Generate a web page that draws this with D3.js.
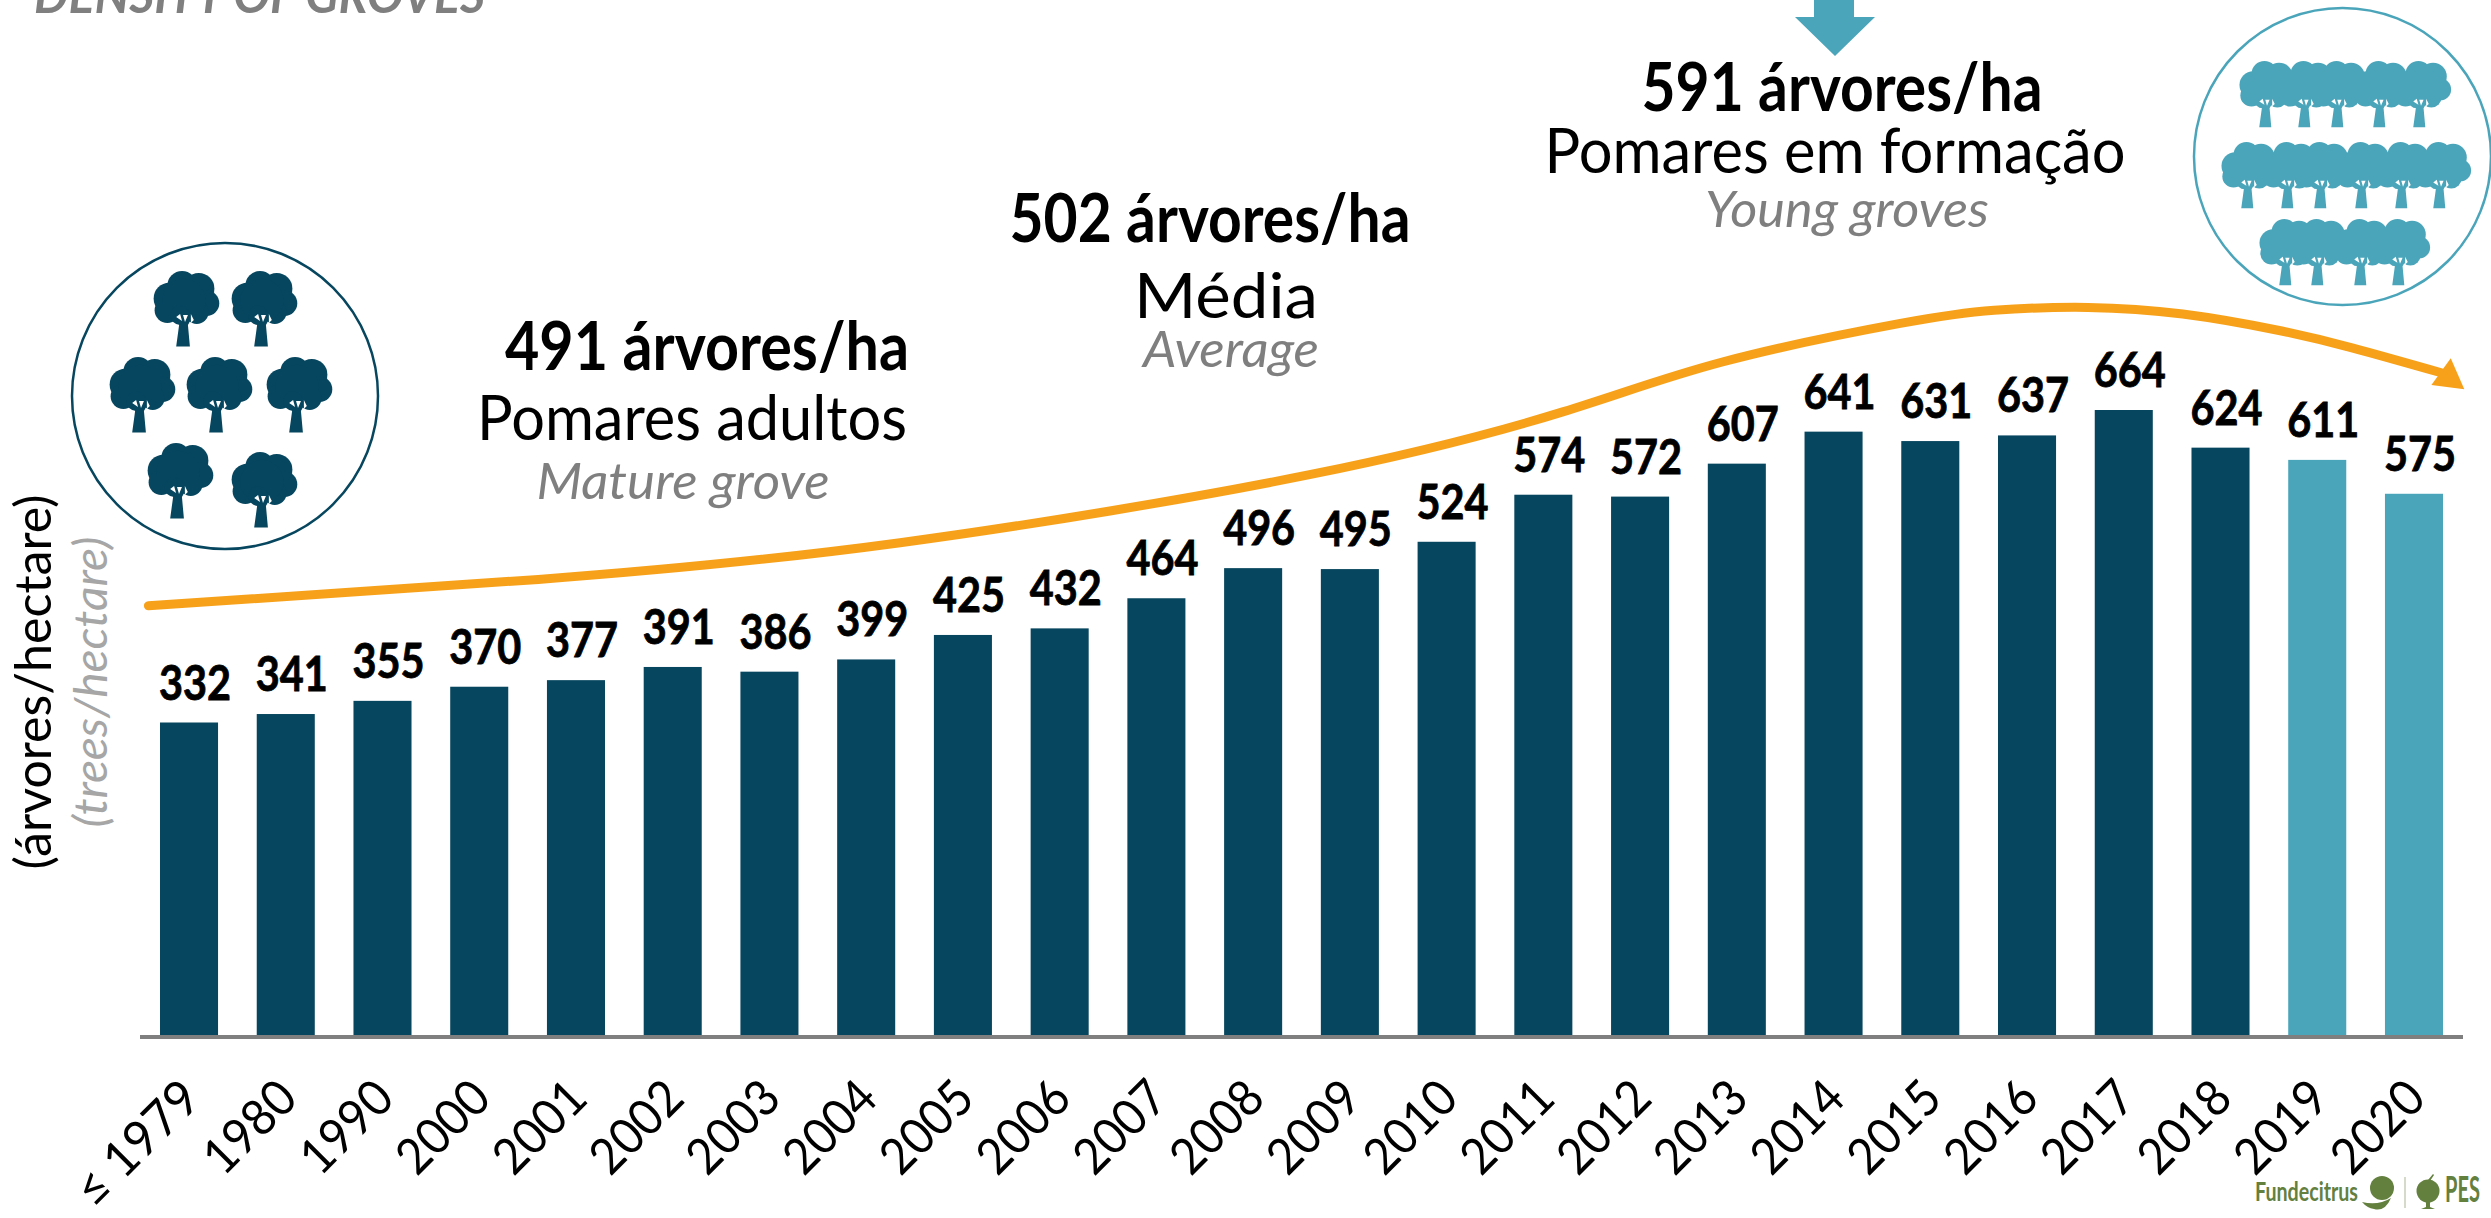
<!DOCTYPE html>
<html><head><meta charset="utf-8">
<style>html,body{margin:0;padding:0;background:#fff;overflow:hidden}svg{display:block}text{font-family:Lato,"Open Sans",sans-serif}</style>
<script src="https://cdnjs.cloudflare.com/ajax/libs/d3/7.8.5/d3.min.js"></script>
</head><body><svg id="c" width="2491" height="1218"></svg>
<script>
const categories = ["≤ 1979","1980","1990","2000","2001","2002","2003","2004","2005","2006","2007","2008","2009","2010","2011","2012","2013","2014","2015","2016","2017","2018","2019","2020"];
const density = [332,341,355,370,377,391,386,399,425,432,464,496,495,524,574,572,607,641,631,637,664,624,611,575];
const youngFrom = ["2019","2020"];
// trend arrow: [category position, trees/ha]
const trendCurve = [[-0.42,456],[3.61,484],[7.35,523],[11.57,595],[14.2,662],[15.85,715],[17.69,756],[18.66,770],[19.63,773],[20.61,766],[21.58,749],[22.36,730],[23.3,703]];
const trendHead = [[23.38,719],[23.52,686],[23.18,690.5]];
const annotations = [
 {t:"DENSITY OF GROVES",x:259.5,y:13,s:50,w:451,b:1,i:1,c:"#7f7f7f"},
 {t:"491 árvores/ha",x:707,y:370,s:66,w:404,b:1},
 {t:"Pomares adultos",x:692,y:440,s:62,w:430},
 {t:"Mature grove",x:683,y:499,s:50,w:293,i:1,c:"#7f7f7f"},
 {t:"502 árvores/ha",x:1210,y:242,s:66,w:401,b:1},
 {t:"Média",x:1226,y:318,s:62,w:184},
 {t:"Average",x:1231,y:367,s:50,w:176,i:1,c:"#7f7f7f"},
 {t:"591 árvores/ha",x:1842,y:111,s:66,w:401,b:1},
 {t:"Pomares em formação",x:1835,y:173,s:62,w:581},
 {t:"Young groves",x:1847,y:227,s:50,w:284,i:1,c:"#7f7f7f"}
];
const axisTitles = [
 {t:"(árvores/hectare)",x:51,y:682,s:50,w:375,c:"#000"},
 {t:"(trees/hectare)",x:107,y:682,s:46,w:291,i:1,c:"#a6a6a6"}
];
const darkTrees = [[185,271],[263,271],[141,357],[218,357],[298,357],[179,443],[263,452]];
const tealTrees = [[2267,61],[2306,61],[2339,61],[2381,61],[2421,61],[2249,142],[2289,142],[2322,142],[2363,142],[2403,142],[2441,142],[2287,219],[2319,219],[2362,219],[2400,219]];
const NAVY="#07465f", TEAL="#4ba5ba", ORANGE="#f7a11a", GREEN="#64803f";

const svg=d3.select("#c");
const x=d3.scaleBand().domain(categories).range([160,2443]).paddingInner(0.4).paddingOuter(0);
const y=d3.scaleLinear().domain([0,664]).range([1035,410]);
const xi=d3.scaleLinear().domain([0,categories.length-1]).range([x(categories[0])+x.bandwidth()/2,x(categories[categories.length-1])+x.bandwidth()/2]);

// bars
svg.append("g").selectAll("rect").data(density).join("rect")
 .attr("x",(d,i)=>x(categories[i])).attr("y",d=>y(d)).attr("width",x.bandwidth()).attr("height",d=>y(0)-y(d))
 .attr("fill",(d,i)=>youngFrom.includes(categories[i])?TEAL:NAVY);

// baseline
svg.append("line").attr("x1",x.range()[0]-20).attr("x2",x.range()[1]+20).attr("y1",y(0)+2).attr("y2",y(0)+2).attr("stroke","#7f7f7f").attr("stroke-width",4);

// value labels
svg.append("g").selectAll("text").data(density).join("text")
 .attr("x",(d,i)=>x(categories[i])+x.bandwidth()/2+6).attr("y",d=>y(d)-23)
 .attr("text-anchor","middle").attr("font-size",47).attr("font-weight",700).attr("fill","#000")
 .attr("stroke","#000").attr("stroke-width",0.8)
 .attr("textLength",72).attr("lengthAdjust","spacingAndGlyphs").text(d=>d);

// category axis
const ax=svg.append("g").attr("transform",`translate(0,${y(0)})`).call(d3.axisBottom(x).tickSize(0));
ax.select(".domain").remove();
ax.selectAll("text").attr("font-size",50).attr("fill","#000").attr("font-family","Lato")
 .attr("text-anchor","end").attr("dy",0).attr("y",0).attr("x",0)
 .attr("textLength",d=>d.length>4?153:108).attr("lengthAdjust","spacingAndGlyphs")
 .attr("transform","translate(14,66) rotate(-45)");

// trend arrow
svg.append("path").attr("d",d3.line().x(d=>xi(d[0])).y(d=>y(d[1])).curve(d3.curveNatural)(trendCurve))
 .attr("fill","none").attr("stroke",ORANGE).attr("stroke-width",9).attr("stroke-linecap","round");
svg.append("path").attr("d",d3.line().x(d=>xi(d[0])).y(d=>y(d[1]))(trendHead)+"Z").attr("fill",ORANGE);

// annotations
const ann=d=>s=>s.attr("font-size",d.s).attr("font-weight",d.b?700:400).attr("font-style",d.i?"italic":"normal")
 .attr("fill",d.c||"#000").attr("text-anchor","middle").attr("textLength",d.w).attr("lengthAdjust","spacingAndGlyphs").text(d.t);
annotations.forEach(d=>svg.append("text").attr("x",d.x).attr("y",d.y).call(ann(d)));
axisTitles.forEach(d=>svg.append("text").attr("transform",`translate(${d.x},${d.y}) rotate(-90)`).call(ann(d)));

// top arrow
svg.append("path").attr("d","M1814,0H1854V17H1875L1835,56L1795,17H1814Z").attr("fill",TEAL);

// circles
svg.append("circle").attr("cx",225).attr("cy",396).attr("r",153).attr("fill","none").attr("stroke",NAVY).attr("stroke-width",2.5);
svg.append("circle").attr("cx",2342.5).attr("cy",156.5).attr("r",148.5).attr("fill","none").attr("stroke",TEAL).attr("stroke-width",2.5);

// tree icon, origin = top centre, unit box 67 x 77
const crown=[[-3,15,15],[-16,28,16],[14,18,16],[22,33,13],[12,42,12],[-18,40,13],[-1,30,22],[-5,45,10]];
function tree(g,color,k){
 const t=g.append("g").attr("transform",`scale(${k})`).attr("fill",color);
 crown.forEach(c=>t.append("circle").attr("cx",c[0]).attr("cy",c[1]).attr("r",c[2]));
 t.append("path").attr("d","M-9,77H5L3,55L8,46H-10L-6,55Z");
 t.append("path").attr("d","M-9,47L-5,44L-3,51ZM-2,45L3,45L0,52ZM6,44L9,50L6,53Z").attr("fill","#fff");
}
darkTrees.forEach(p=>tree(svg.append("g").attr("transform",`translate(${p[0]},${p[1]})`),NAVY,0.98));
tealTrees.forEach(p=>tree(svg.append("g").attr("transform",`translate(${p[0]},${p[1]})`),TEAL,0.86));

// logos
svg.append("text").attr("x",2255).attr("y",1201).attr("font-size",27).attr("font-weight",700).attr("fill",GREEN).attr("textLength",103).attr("lengthAdjust","spacingAndGlyphs").text("Fundecitrus");
svg.append("circle").attr("cx",2382).attr("cy",1188).attr("r",12).attr("fill",GREEN);
svg.append("path").attr("d","M2362,1202Q2378,1206 2391,1198Q2385,1212 2374,1209Q2367,1208 2362,1202Z").attr("fill",GREEN);
svg.append("line").attr("x1",2405).attr("x2",2405).attr("y1",1177).attr("y2",1208).attr("stroke","#c9ceb9").attr("stroke-width",1.5);
svg.append("circle").attr("cx",2428).attr("cy",1191).attr("r",11.5).attr("fill",GREEN);
svg.append("path").attr("d","M2426,1200H2430V1207L2435,1209H2421L2426,1207ZM2428,1180L2433,1174L2434,1175L2430,1181Z").attr("fill",GREEN);
svg.append("text").attr("x",2445).attr("y",1202).attr("font-size",36).attr("font-weight",700).attr("fill",GREEN).attr("textLength",35).attr("lengthAdjust","spacingAndGlyphs").text("PES");
</script></body></html>
